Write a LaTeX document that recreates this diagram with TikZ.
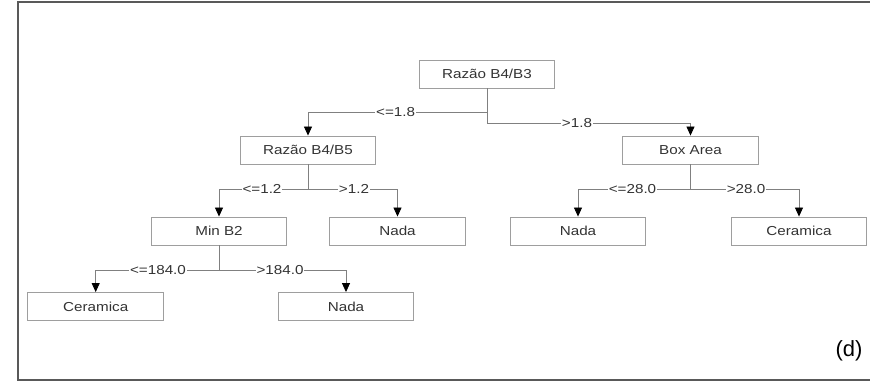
\documentclass[tikz,border=0pt]{standalone}
\usepackage{fontspec}
\setmainfont{Liberation Sans}
\usepackage{tikz}
\usetikzlibrary{arrows.meta}

\begin{document}
\begin{tikzpicture}[x=1pt, y=-1pt,
  box/.style={draw=black!38, line width=0.9pt, minimum width=116pt, minimum height=28pt,
    inner sep=0pt, xscale=1.17, text=black!80, font=\fontsize{13}{15}\selectfont},
  lbl/.style={fill=white, inner sep=0.6pt, xscale=1.17, text=black!80, font=\fontsize{13}{15}\selectfont},
  edge/.style={draw=black!50, line width=0.8pt, -{Triangle[length=9pt, width=8pt, black]}}]

\useasboundingbox (0,0) rectangle (870,384);
\draw[black!65, line width=2pt] (872,2) -- (18,2) -- (18,380) -- (872,380);

\node[box] (root) at (487,74) {Razão B4/B3};
\node[box] (r45) at (308,150) {Razão B4/B5};
\node[box] (area) at (690.5,150) {Box Area};
\node[box] (minb) at (219,231) {Min B2};
\node[box] (nadaA) at (397.5,231) {Nada};
\node[box] (nadaB) at (578,231) {Nada};
\node[box] (ceraA) at (799,231) {Ceramica};
\node[box] (ceraB) at (95.7,306.5) {Ceramica};
\node[box] (nadaC) at (346,306.5) {Nada};

\draw[edge] (root.south) -- ++(0,24) -| (r45.north);
\draw[edge] (root.south) -- ++(0,35) -| (area.north);
\draw[edge] (r45.south) -- ++(0,25) -| (minb.north);
\draw[edge] (r45.south) -- ++(0,25) -| (nadaA.north);
\draw[edge] (area.south) -- ++(0,25) -| (nadaB.north);
\draw[edge] (area.south) -- ++(0,25) -| (ceraA.north);
\draw[edge] (minb.south) -- ++(0,25) -| (ceraB.north);
\draw[edge] (minb.south) -- ++(0,25) -| (nadaC.north);

\node[lbl] (c1) at (395.6,112) {<=1.8};
\node[lbl] (c2) at (577,123) {>1.8};
\node[lbl] (c3) at (262,189) {<=1.2};
\node[lbl] (c4) at (354,189) {>1.2};
\node[lbl] (c5) at (632.5,189) {<=28.0};
\node[lbl] (c6) at (746,189) {>28.0};
\node[lbl] (c7) at (158,270) {<=184.0};
\node[lbl] (c8) at (280,270) {>184.0};

\node[font=\fontsize{22}{26}\selectfont] (tag) at (849,351) {(d)};
\end{tikzpicture}
\end{document}
